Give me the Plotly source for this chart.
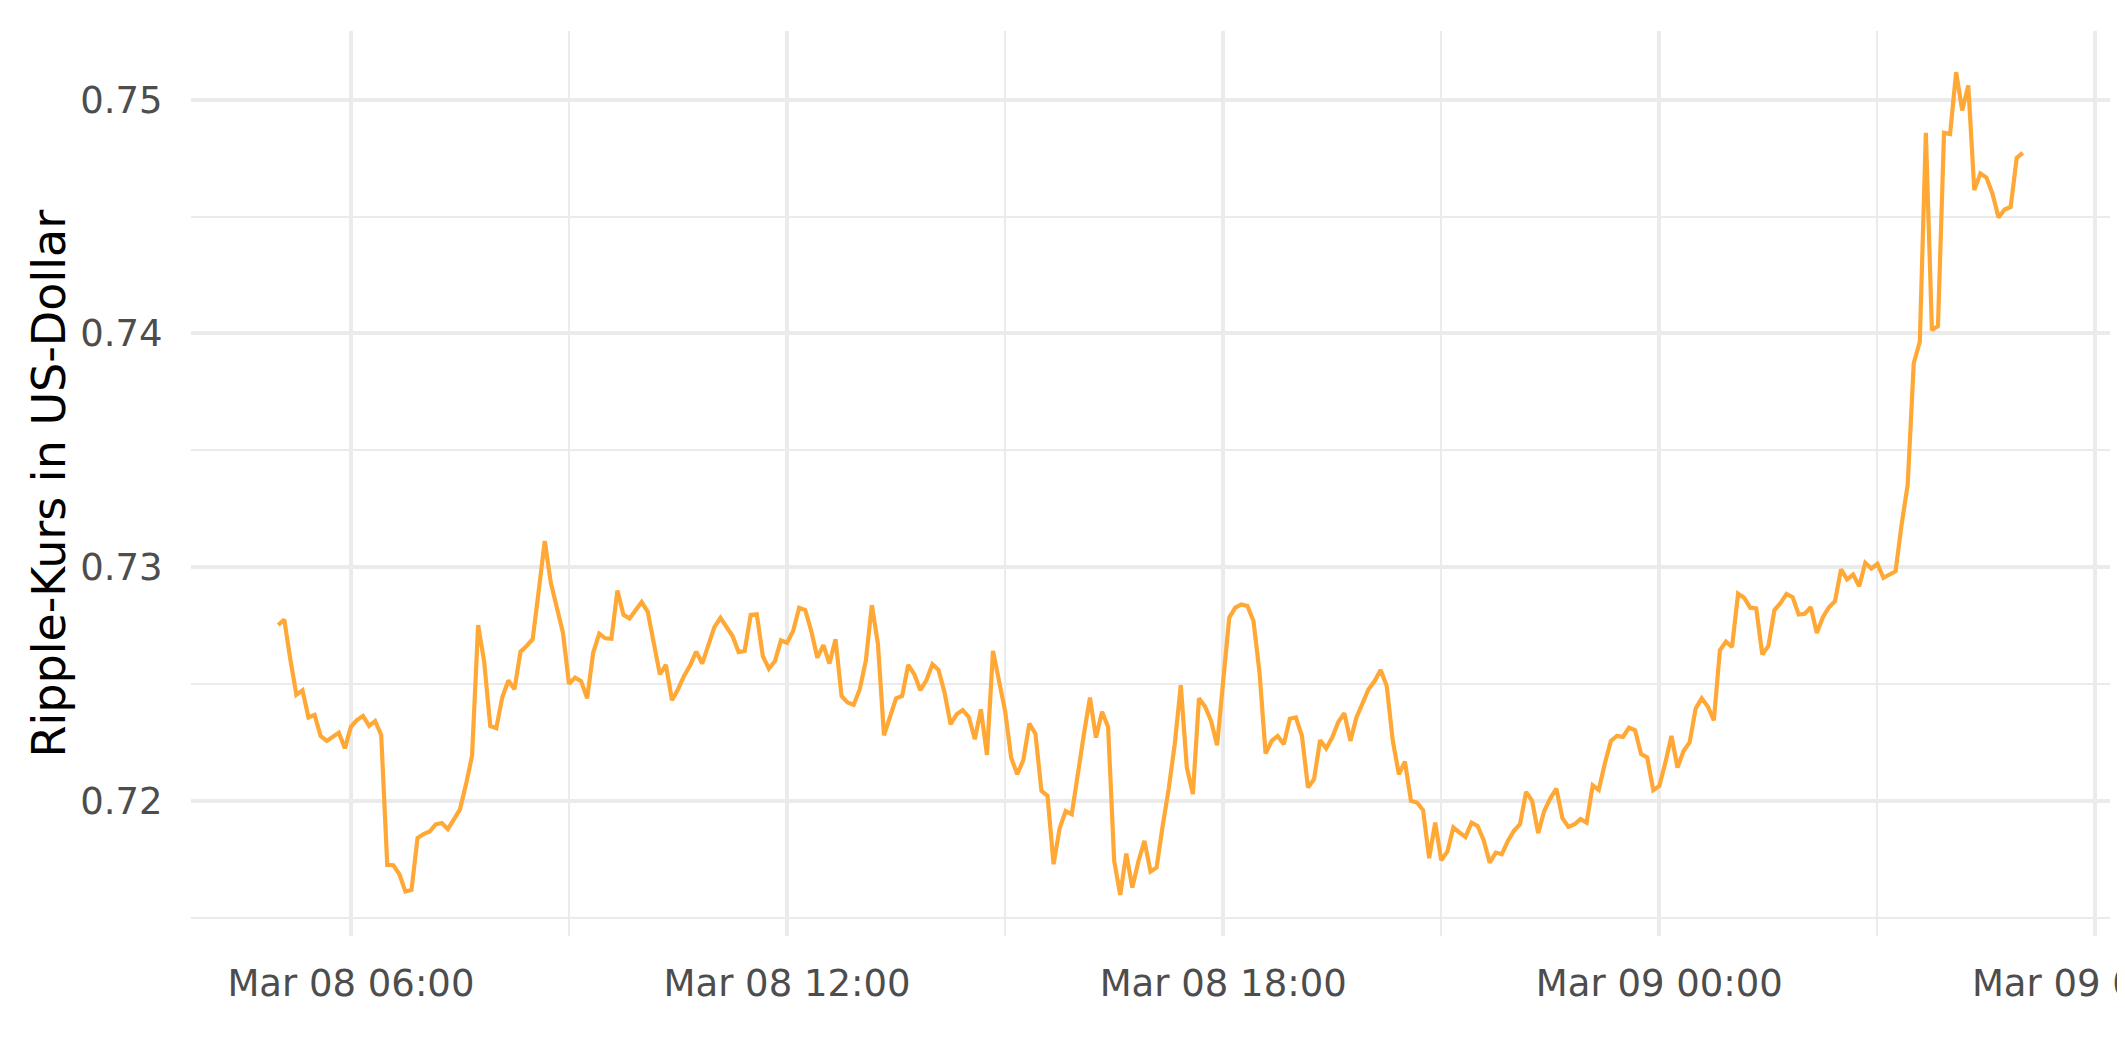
import pandas as pd
import plotly.graph_objects as go

# 5-minute XRP prices, Mar 08 05:00 -> Mar 09 05:00
start_time = "2024-03-08 05:00"
interval = "5min"

price_05_11 = [
    0.72752, 0.72775, 0.72605, 0.72453, 0.72472, 0.72356, 0.72367, 0.72277, 0.72256, 0.72274, 0.72291, 0.72224,
    0.72316, 0.72345, 0.72363, 0.72320, 0.72341, 0.72281, 0.71725, 0.71724, 0.71685, 0.71611, 0.71618, 0.71840,
    0.71857, 0.71868, 0.71899, 0.71904, 0.71878, 0.71920, 0.71963, 0.72070, 0.72192, 0.72752, 0.72595, 0.72320,
    0.72310, 0.72444, 0.72515, 0.72477, 0.72638, 0.72662, 0.72691, 0.72897, 0.73111, 0.72933, 0.72826, 0.72719,
    0.72500, 0.72527, 0.72512, 0.72438, 0.72634, 0.72715, 0.72695, 0.72693, 0.72900, 0.72795, 0.72780, 0.72819,
    0.72850, 0.72808, 0.72680, 0.72541, 0.72581, 0.72430, 0.72477, 0.72534, 0.72579, 0.72638, 0.72587, 0.72666,
    0.72743, 0.72783, 0.72743, 0.72705, 0.72636, 0.72641, 0.72795, 0.72798, 0.72619, 0.72565, 0.72598, 0.72686,
]
price_12_17 = [
    0.72676, 0.72726, 0.72826, 0.72816, 0.72726, 0.72612, 0.72666, 0.72587, 0.72691, 0.72448, 0.72420, 0.72410,
    0.72477, 0.72598, 0.72837, 0.72672, 0.72280, 0.72356, 0.72438, 0.72448, 0.72581, 0.72541, 0.72473, 0.72515,
    0.72584, 0.72560, 0.72463, 0.72327, 0.72370, 0.72388, 0.72358, 0.72263, 0.72391, 0.72196, 0.72641, 0.72512,
    0.72384, 0.72184, 0.72113, 0.72173, 0.72330, 0.72287, 0.72042, 0.72021, 0.71728, 0.71882, 0.71956, 0.71942,
    0.72120, 0.72284, 0.72441, 0.72270, 0.72381, 0.72316, 0.71743, 0.71597, 0.71774, 0.71628, 0.71740, 0.71828,
    0.71697, 0.71714, 0.71890, 0.72050, 0.72242, 0.72494, 0.72142, 0.72028, 0.72438, 0.72403, 0.72341, 0.72237,
]
price_18_23 = [
    0.72512, 0.72783, 0.72826, 0.72840, 0.72833, 0.72769, 0.72548, 0.72202, 0.72256, 0.72277, 0.72242, 0.72351,
    0.72356, 0.72277, 0.72056, 0.72092, 0.72259, 0.72224, 0.72270, 0.72337, 0.72374, 0.72256, 0.72356, 0.72420,
    0.72477, 0.72512, 0.72559, 0.72491, 0.72256, 0.72113, 0.72167, 0.71999, 0.71992, 0.71959, 0.71754, 0.71906,
    0.71745, 0.71782, 0.71885, 0.71864, 0.71845, 0.71906, 0.71892, 0.71831, 0.71735, 0.71778, 0.71771, 0.71828,
    0.71871, 0.71899, 0.72038, 0.71999, 0.71861, 0.71956, 0.72010, 0.72052, 0.71925, 0.71888, 0.71899, 0.71921,
    0.71906, 0.72066, 0.72046, 0.72159, 0.72256, 0.72277, 0.72273, 0.72313, 0.72301, 0.72199, 0.72185, 0.72045,
]
price_00_05 = [
    0.72063, 0.72163, 0.72277, 0.72142, 0.72213, 0.72249, 0.72395, 0.72438, 0.72403, 0.72344, 0.72644, 0.72681,
    0.72658, 0.72886, 0.72869, 0.72826, 0.72823, 0.72626, 0.72662, 0.72816, 0.72845, 0.72885, 0.72871, 0.72797,
    0.72800, 0.72828, 0.72718, 0.72785, 0.72828, 0.72854, 0.72990, 0.72947, 0.72968, 0.72918, 0.73018, 0.72994,
    0.73014, 0.72954, 0.72968, 0.72982, 0.73182, 0.73352, 0.73872, 0.73964, 0.74858, 0.74014, 0.74031, 0.74858,
    0.74853, 0.75118, 0.74954, 0.75061, 0.74613, 0.74684, 0.74667, 0.74598, 0.74496, 0.74530, 0.74541, 0.74751,
    0.74772,
]

y_title = "Ripple-Kurs in US-Dollar"
x_tick_format = "%b %d %H:%M"
y_ticks = [0.72, 0.73, 0.74, 0.75]

prices = price_05_11 + price_12_17 + price_18_23 + price_00_05
times = pd.date_range(start_time, periods=len(prices), freq=interval)

# ggplot-like 5% expansion
t0, t1 = times[0], times[-1]
span = t1 - t0
x_range = [t0 - span * 0.05, t1 + span * 0.05]
pmin, pmax = min(prices), max(prices)
pad = (pmax - pmin) * 0.05
y_range = [pmin - pad, pmax + pad]

FONT = "DejaVu Sans"
GRID = "#EBEBEB"

fig = go.Figure()
fig.add_trace(go.Scatter(
    x=times, y=prices, mode="lines",
    line=dict(color="#FFA836", width=4.2),
    showlegend=False, hoverinfo="x+y",
))

fig.update_layout(
    width=2125, height=1062,
    margin=dict(l=183, r=23, t=23, b=134, autoexpand=False),
    paper_bgcolor="white", plot_bgcolor="white",
    font=dict(family=FONT, size=37, color="#4D4D4D"),
    showlegend=False,
    annotations=[dict(
        text=y_title, xref="paper", yref="paper", x=0, y=0.5,
        xanchor="center", yanchor="middle", xshift=-143, textangle=-90,
        showarrow=False, font=dict(family=FONT, size=46, color="black"),
    )],
)

fig.update_xaxes(
    type="date", range=x_range, automargin=False,
    tickformat=x_tick_format, dtick=6 * 3600 * 1000, tick0="2024-03-08 00:00",
    ticks="outside", ticklen=15, tickcolor="rgba(0,0,0,0)",
    tickfont=dict(family=FONT, size=37, color="#4D4D4D"),
    ticklabeloverflow="allow",
    showgrid=True, gridcolor=GRID, gridwidth=4.2,
    minor=dict(dtick=3 * 3600 * 1000, tick0="2024-03-08 00:00", showgrid=True, gridcolor=GRID, gridwidth=2.2),
    showline=False, zeroline=False,
)
fig.update_yaxes(
    range=y_range, automargin=False,
    tickvals=y_ticks, tickformat=".2f",
    ticks="outside", ticklen=20, tickcolor="rgba(0,0,0,0)",
    tickfont=dict(family=FONT, size=37, color="#4D4D4D"),
    showgrid=True, gridcolor=GRID, gridwidth=4.2,
    minor=dict(dtick=0.005, tick0=0.0, showgrid=True, gridcolor=GRID, gridwidth=2.2),
    showline=False, zeroline=False,
)

fig.write_html("out.html", config={"displayModeBar": False})
